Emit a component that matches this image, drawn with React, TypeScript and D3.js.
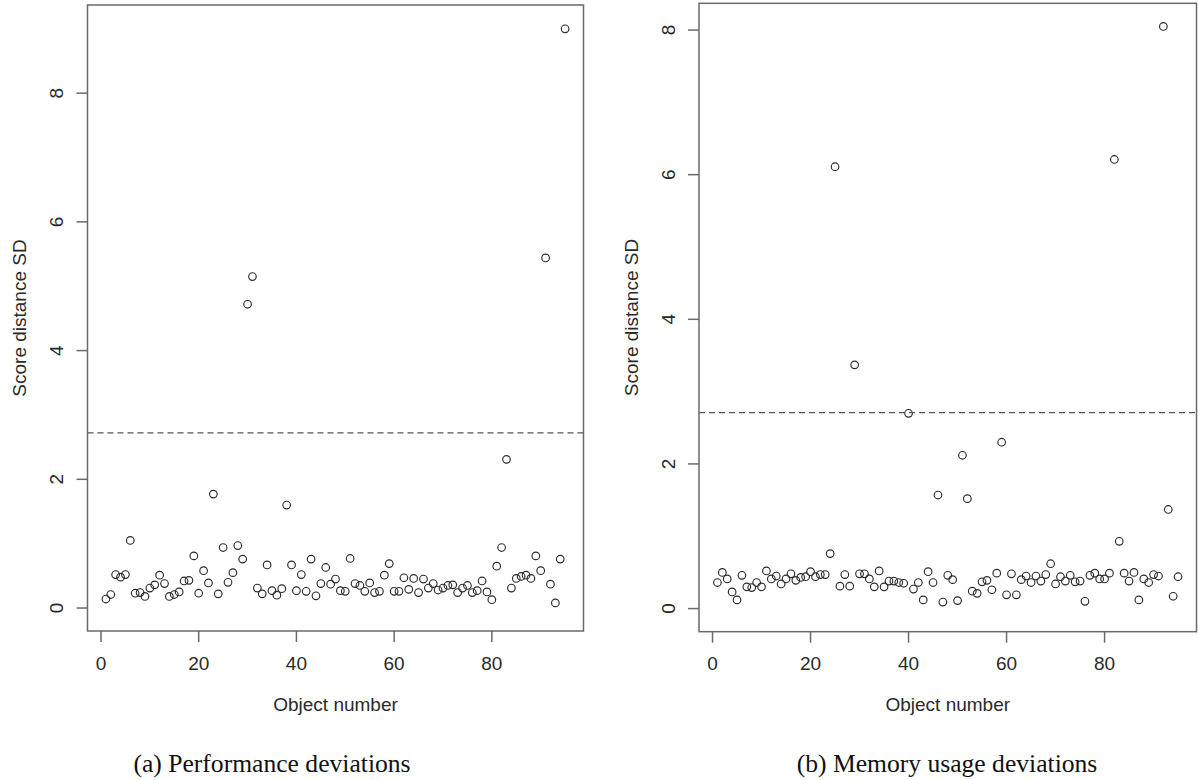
import React from "react";
import * as d3 from "d3";

// Object numbers 1..95
const objectNumbers: number[] = d3.range(1, 96);

const performanceSD: number[] = [
  0.14, 0.21, 0.52, 0.48, 0.52, 1.05, 0.23, 0.24, 0.18, 0.31,
  0.36, 0.51, 0.38, 0.18, 0.21, 0.25, 0.42, 0.43, 0.81, 0.23,
  0.58, 0.39, 1.77, 0.22, 0.94, 0.40, 0.55, 0.97, 0.76, 4.72,
  5.15, 0.31, 0.22, 0.67, 0.27, 0.20, 0.30, 1.60, 0.67, 0.27,
  0.52, 0.26, 0.76, 0.19, 0.38, 0.63, 0.37, 0.45, 0.27, 0.26,
  0.77, 0.38, 0.35, 0.26, 0.39, 0.24, 0.26, 0.51, 0.69, 0.26,
  0.26, 0.47, 0.29, 0.46, 0.24, 0.45, 0.31, 0.38, 0.28, 0.31,
  0.35, 0.36, 0.24, 0.31, 0.35, 0.24, 0.27, 0.42, 0.25, 0.13,
  0.65, 0.94, 2.31, 0.31, 0.46, 0.49, 0.51, 0.46, 0.81, 0.58,
  5.44, 0.37, 0.08, 0.76, 9.0,
];

const memorySD: number[] = [
  0.36, 0.50, 0.41, 0.23, 0.12, 0.46, 0.30, 0.29, 0.36, 0.30,
  0.52, 0.41, 0.45, 0.34, 0.41, 0.48, 0.39, 0.43, 0.44, 0.51,
  0.44, 0.47, 0.47, 0.76, 6.11, 0.31, 0.47, 0.31, 3.37, 0.48,
  0.48, 0.41, 0.30, 0.52, 0.30, 0.38, 0.38, 0.36, 0.35, 2.70,
  0.27, 0.36, 0.12, 0.51, 0.36, 1.57, 0.09, 0.46, 0.40, 0.11,
  2.12, 1.52, 0.24, 0.21, 0.37, 0.39, 0.26, 0.49, 2.30, 0.19,
  0.48, 0.19, 0.40, 0.45, 0.36, 0.45, 0.38, 0.47, 0.62, 0.34,
  0.44, 0.38, 0.46, 0.37, 0.38, 0.10, 0.46, 0.49, 0.41, 0.41,
  0.49, 6.21, 0.93, 0.49, 0.38, 0.50, 0.12, 0.41, 0.36, 0.47,
  0.45, 8.05, 1.37, 0.17, 0.44,
];

const xTicks: number[] = [0, 20, 40, 60, 80];
const yTicks: number[] = [0, 2, 4, 6, 8];
const thresholds: number[] = [2.72, 2.71];
const captions: string[] = ["(a) Performance deviations", "(b) Memory usage deviations"];
const xTitle = "Object number";
const yTitle = "Score distance SD";

const SANS = "'Liberation Sans', Arial, Helvetica, sans-serif";
const SERIF = "'Liberation Serif', 'Times New Roman', serif";
const FS = 19;

type PanelLayout = {
  left: number;
  right: number;
  top: number;
  bottom: number;
  yDomain: [number, number];
  captionX: number;
};

const layouts: PanelLayout[] = [
  { left: 87.5, right: 583.5, top: 5, bottom: 631, yDomain: [-0.357, 9.37], captionX: 272 },
  { left: 699, right: 1196.5, top: 3.3, bottom: 631.7, yDomain: [-0.32, 8.37], captionX: 947 },
];

function Panel({ values, layout, threshold, caption }: { values: number[]; layout: PanelLayout; threshold: number; caption: string }) {
  const x = d3.scaleLinear().domain([-2.76, 98.76]).range([layout.left, layout.right]);
  const y = d3.scaleLinear().domain(layout.yDomain).range([layout.bottom, layout.top]);
  const axisColor = "#6a6a6a";
  const textColor = "#2a2a2a";
  const midY = (layout.top + layout.bottom) / 2;
  const midX = (layout.left + layout.right) / 2;
  return (
    <g>
      {values.map((v, i) => (
        <circle key={i} cx={x(objectNumbers[i])} cy={y(v)} r={3.8} fill="none" stroke="#2b2b2b" strokeWidth={1.15} />
      ))}
      <line x1={layout.left} x2={layout.right} y1={y(threshold)} y2={y(threshold)} stroke="#555" strokeWidth={1.3} strokeDasharray="6,4" />
      <rect x={layout.left} y={layout.top} width={layout.right - layout.left} height={layout.bottom - layout.top} fill="none" stroke={axisColor} strokeWidth={1.5} />
      {xTicks.map((t) => (
        <g key={"x" + t}>
          <line x1={x(t)} x2={x(t)} y1={layout.bottom} y2={layout.bottom + 11} stroke={axisColor} strokeWidth={1.5} />
          <text x={x(t)} y={663} textAnchor="middle" dominantBaseline="central" fontFamily={SANS} fontSize={FS} fill={textColor}>{t}</text>
        </g>
      ))}
      {yTicks.map((t) => (
        <g key={"y" + t}>
          <line x1={layout.left - 11} x2={layout.left} y1={y(t)} y2={y(t)} stroke={axisColor} strokeWidth={1.5} />
          <text transform={`translate(${layout.left - 31},${y(t)}) rotate(-90)`} textAnchor="middle" dominantBaseline="central" fontFamily={SANS} fontSize={FS} fill={textColor}>{t}</text>
        </g>
      ))}
      <text x={midX} y={704} textAnchor="middle" dominantBaseline="central" fontFamily={SANS} fontSize={FS} fill={textColor}>{xTitle}</text>
      <text transform={`translate(${layout.left - 68},${midY}) rotate(-90)`} textAnchor="middle" dominantBaseline="central" fontFamily={SANS} fontSize={FS} fill={textColor}>{yTitle}</text>
      <text x={layout.captionX} y={763} textAnchor="middle" dominantBaseline="central" fontFamily={SERIF} fontSize={25.6} fill="#111">{caption}</text>
    </g>
  );
}

export default function App() {
  const series = [performanceSD, memorySD];
  return (
    <svg width={1198} height={780} style={{ position: "absolute", left: 0, top: 0, background: "#fff" }}>
      <rect width={1198} height={780} fill="#fff" />
      {series.map((s, k) => (
        <Panel key={k} values={s} layout={layouts[k]} threshold={thresholds[k]} caption={captions[k]} />
      ))}
    </svg>
  );
}
